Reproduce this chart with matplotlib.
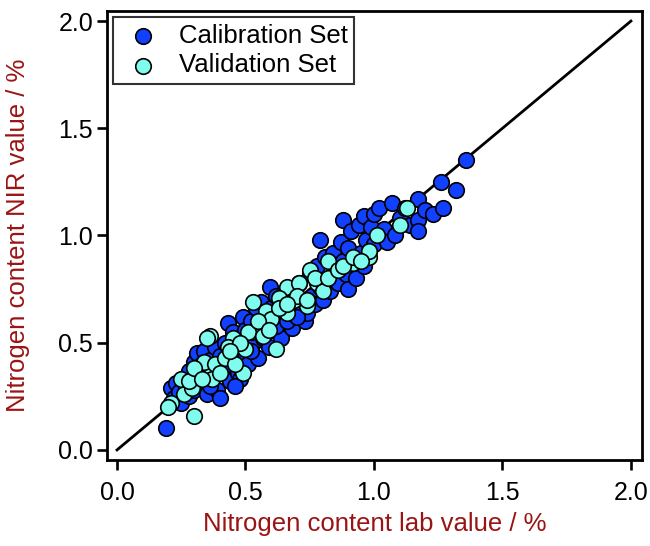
import matplotlib
matplotlib.use('Agg')
import matplotlib.pyplot as plt

plt.rcParams['font.family'] = ['Liberation Sans', 'DejaVu Sans']

# calibration set (lab value, NIR value)
cal_lab = [0.19, 0.21, 0.22, 0.23, 0.24, 0.25, 0.26, 0.27, 0.28, 0.28,
           0.29, 0.30, 0.30, 0.31, 0.32, 0.33, 0.33, 0.34, 0.35, 0.35,
           0.36, 0.37, 0.38, 0.38, 0.39, 0.40, 0.40, 0.41, 0.42, 0.43,
           0.43, 0.44, 0.45, 0.45, 0.46, 0.47, 0.48, 0.48, 0.49, 0.50,
           0.50, 0.51, 0.52, 0.53, 0.54, 0.55, 0.55, 0.56, 0.57, 0.595,
           0.58, 0.59, 0.60, 0.61, 0.62, 0.63, 0.64, 0.65, 0.66, 0.67,
           0.68, 0.69, 0.70, 0.71, 0.72, 0.73, 0.74, 0.75, 0.76, 0.77,
           0.78, 0.79, 0.79, 0.80, 0.81, 0.82, 0.83, 0.84, 0.85, 0.86,
           0.87, 0.88, 0.88, 0.89, 0.90, 0.90, 0.91, 0.92, 0.93, 0.94,
           0.95, 0.96, 0.96, 0.97, 0.98, 0.99, 1.00, 1.00, 1.02, 1.02,
           1.04, 1.05, 1.07, 1.08, 1.10, 1.12, 1.14, 1.17, 1.17, 1.17,
           1.20, 1.23, 1.26, 1.27, 1.32, 1.36,
           0.52, 0.58, 0.62, 0.66, 0.70, 0.74, 0.46, 0.36]
cal_nir = [0.10, 0.29, 0.24, 0.31, 0.27, 0.22, 0.33, 0.29, 0.37, 0.25,
           0.32, 0.41, 0.28, 0.45, 0.35, 0.30, 0.40, 0.46, 0.26, 0.36,
           0.42, 0.33, 0.48, 0.38, 0.28, 0.24, 0.44, 0.36, 0.50, 0.59,
           0.40, 0.32, 0.47, 0.55, 0.42, 0.36, 0.33, 0.52, 0.62, 0.45,
           0.56, 0.40, 0.60, 0.50, 0.66, 0.43, 0.57, 0.69, 0.52, 0.76,
           0.62, 0.48, 0.66, 0.56, 0.72, 0.60, 0.52, 0.68, 0.75, 0.62,
           0.57, 0.73, 0.66, 0.78, 0.70, 0.60, 0.64, 0.82, 0.72, 0.68,
           0.86, 0.98, 0.76, 0.70, 0.90, 0.80, 0.74, 0.92, 0.84, 0.78,
           0.97, 1.07, 0.88, 0.82, 0.75, 0.94, 1.02, 0.88, 0.80, 1.05,
           0.92, 1.09, 0.86, 0.98, 0.93, 1.04, 1.10, 0.96, 1.13, 1.00,
           1.03, 0.97, 1.15, 1.00, 1.08, 1.13, 1.05, 1.17, 1.07, 1.02,
           1.12, 1.10, 1.25, 1.13, 1.21, 1.35,
           0.46, 0.55, 0.58, 0.60, 0.62, 0.70, 0.30, 0.30]

# validation set
val_lab = [0.21, 0.30, 0.26, 0.29, 0.25, 0.37, 0.37, 0.34, 0.36, 0.45,
           0.50, 0.52, 0.49, 0.43, 0.53, 0.58, 0.63, 0.66, 0.71, 0.75,
           0.60, 0.74, 0.51, 0.57, 0.35, 0.38, 0.69, 0.66, 0.62, 0.82,
           0.92, 0.98, 0.78, 0.63, 0.80, 1.13, 1.10, 1.01, 0.98, 0.20,
           0.28, 0.42, 0.46, 0.40, 0.30, 0.33, 0.55, 0.59, 0.63, 0.70,
           0.74, 0.77, 0.82, 0.86, 0.88, 0.92, 0.95, 0.66, 0.48, 0.44]
val_nir = [0.22, 0.16, 0.26, 0.29, 0.33, 0.37, 0.33, 0.41, 0.53, 0.52,
           0.47, 0.55, 0.36, 0.48, 0.69, 0.65, 0.71, 0.76, 0.78, 0.84,
           0.61, 0.67, 0.55, 0.53, 0.52, 0.40, 0.70, 0.64, 0.47, 0.88,
           0.87, 0.90, 0.78, 0.71, 0.74, 1.13, 1.05, 1.00, 0.93, 0.20,
           0.32, 0.43, 0.40, 0.36, 0.38, 0.33, 0.60, 0.56, 0.66, 0.72,
           0.70, 0.80, 0.80, 0.84, 0.86, 0.90, 0.88, 0.68, 0.50, 0.46]

label_red = '#9a1414'

fig = plt.figure(figsize=(6.5, 5.46), dpi=100)
ax = fig.add_axes([0.1646, 0.1575, 0.8231, 0.8224])

ax.plot([0, 2], [0, 2], color='black', lw=2.0, zorder=1)
ax.scatter(cal_lab, cal_nir, s=125, c='#1240ff', edgecolors='black',
           linewidths=1.2, zorder=2, label='Calibration Set')
ax.scatter(val_lab, val_nir, s=125, c='#80fcee', edgecolors='black',
           linewidths=1.2, zorder=3, label='Validation Set')

ax.set_xlim(-0.039, 2.043)
ax.set_ylim(-0.047, 2.047)
ticks = [0.0, 0.5, 1.0, 1.5, 2.0]
ax.set_xticks(ticks)
ax.set_yticks(ticks)
ax.set_xticklabels(['0.0', '0.5', '1.0', '1.5', '2.0'])
ax.set_yticklabels(['0.0', '0.5', '1.0', '1.5', '2.0'])
ax.tick_params(direction='out', length=7, width=1.9, labelsize=18)
ax.tick_params(axis='x', pad=8)
ax.tick_params(axis='y', pad=3)
for sp in ax.spines.values():
    sp.set_linewidth(2.0)

fig.text(375 / 650, 1 - 524 / 546, 'Nitrogen content lab value / %', fontsize=18.5,
         color=label_red, ha='center', va='center')
fig.text(18 / 650, 1 - 235 / 546, 'Nitrogen content NIR value / %', fontsize=18.5,
         color=label_red, ha='center', va='center', rotation=90)

leg = ax.legend(loc='upper left', fontsize=18.5, frameon=True, fancybox=False,
                borderpad=0.25, handletextpad=0.5, labelspacing=0.22,
                borderaxespad=0.25, handlelength=1.8, markerscale=1.0)
leg.get_frame().set_edgecolor('black')
leg.get_frame().set_linewidth(1.5)

fig.savefig('out.png', dpi=100)
